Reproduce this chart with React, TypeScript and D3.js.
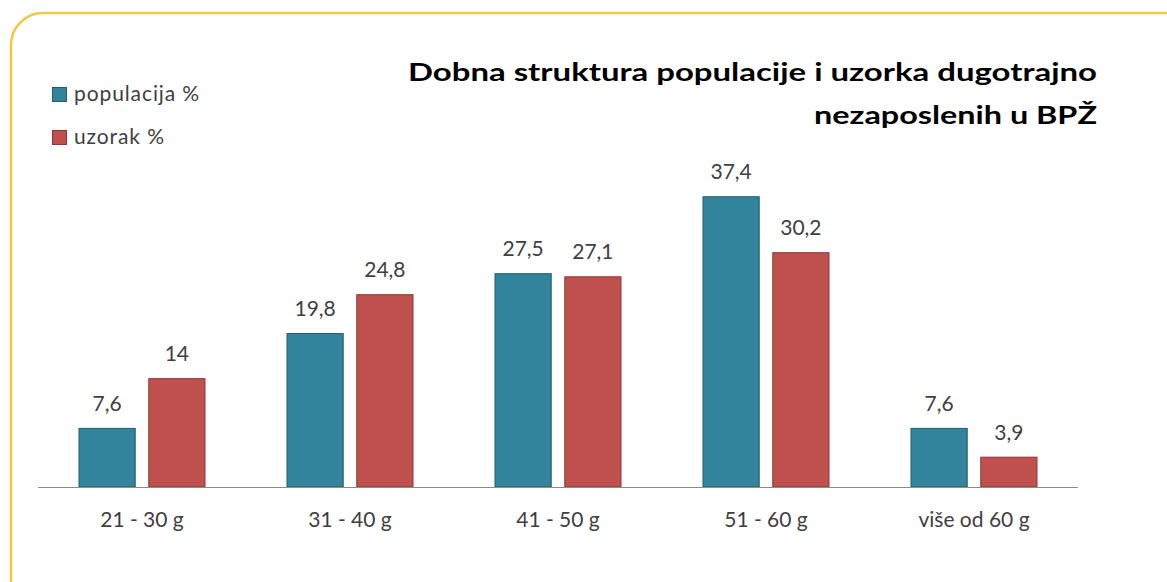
import React from 'react';
import * as d3 from 'd3';

const categories = ['21 - 30 g', '31 - 40 g', '41 - 50 g', '51 - 60 g', 'više od 60 g'];
const populacija = [7.6, 19.8, 27.5, 37.4, 7.6];
const uzorak = [14, 24.8, 27.1, 30.2, 3.9];
const seriesNames = ['populacija %', 'uzorak %'];
const titleLines = ['Dobna struktura populacije i uzorka dugotrajno', 'nezaposlenih u BPŽ'];

const W = 1167;
const H = 582;
const FONT = 'Lato, "Open Sans", sans-serif';
const fills = ['#31849B', '#C0504D'];
const strokes = ['#235E6E', '#8C3836'];

function fmt(v: number) {
    return String(v).replace('.', ',');
}

export default function App() {
    const x0 = d3.scaleBand().domain(categories).range([38, 1078]).paddingInner(0).paddingOuter(0);
    const x1 = d3.scaleBand().domain(seriesNames).range([0, 127]).paddingInner(0.18);
    const y = d3.scaleLinear().domain([0, 40]).range([487, 176]);
    const series = [populacija, uzorak];

    return (
        <svg width={W} height={H} style={{ position: 'absolute', left: 0, top: 0, background: '#fff' }}>
            <rect x={11} y={13} width={W + 40} height={H + 40} rx={32} fill="#fff" stroke="#F2C744" strokeWidth={2.5} />

            {titleLines.map((t, i) => (
                <text key={t} x={1097} y={81 + i * 43} textAnchor="end" fontFamily={FONT} fontWeight="bold"
                    fontSize={25} fill="#000"
                    textLength={i === 0 ? 689 : 283} lengthAdjust="spacingAndGlyphs">{t}</text>
            ))}

            {seriesNames.map((s, i) => (
                <g key={s} transform={`translate(52, ${87 + i * 43})`}>
                    <rect x={0.5} y={0.5} width={14} height={14} fill={fills[i]} stroke={strokes[i]} />
                    <text x={22} y={13.5} fontFamily={FONT} fontSize={21} letterSpacing={0.9} fill="#404040">{s}</text>
                </g>
            ))}

            {categories.map((c, ci) => {
                const gx = (x0(c) as number) + (x0.bandwidth() - 127) / 2;
                return (
                    <g key={c}>
                        {series.map((vals, si) => {
                            const bx = gx + (x1(seriesNames[si]) as number);
                            const v = vals[ci];
                            return (
                                <g key={si}>
                                    <rect x={bx + 0.5} y={y(v) + 0.5} width={x1.bandwidth() - 1} height={y(0) - y(v) - 0.5}
                                        fill={fills[si]} stroke={strokes[si]} strokeWidth={1} />
                                    <text x={bx + x1.bandwidth() / 2} y={y(v) - 17} textAnchor="middle" fontFamily={FONT}
                                        fontSize={21} fill="#404040">{fmt(v)}</text>
                                </g>
                            );
                        })}
                        <text x={(x0(c) as number) + x0.bandwidth() / 2} y={527} textAnchor="middle" fontFamily={FONT}
                            fontSize={21} fill="#404040">{c}</text>
                    </g>
                );
            })}

            <line x1={38} x2={1078} y1={487.5} y2={487.5} stroke="#8C8C8C" strokeWidth={1.2} />
        </svg>
    );
}
